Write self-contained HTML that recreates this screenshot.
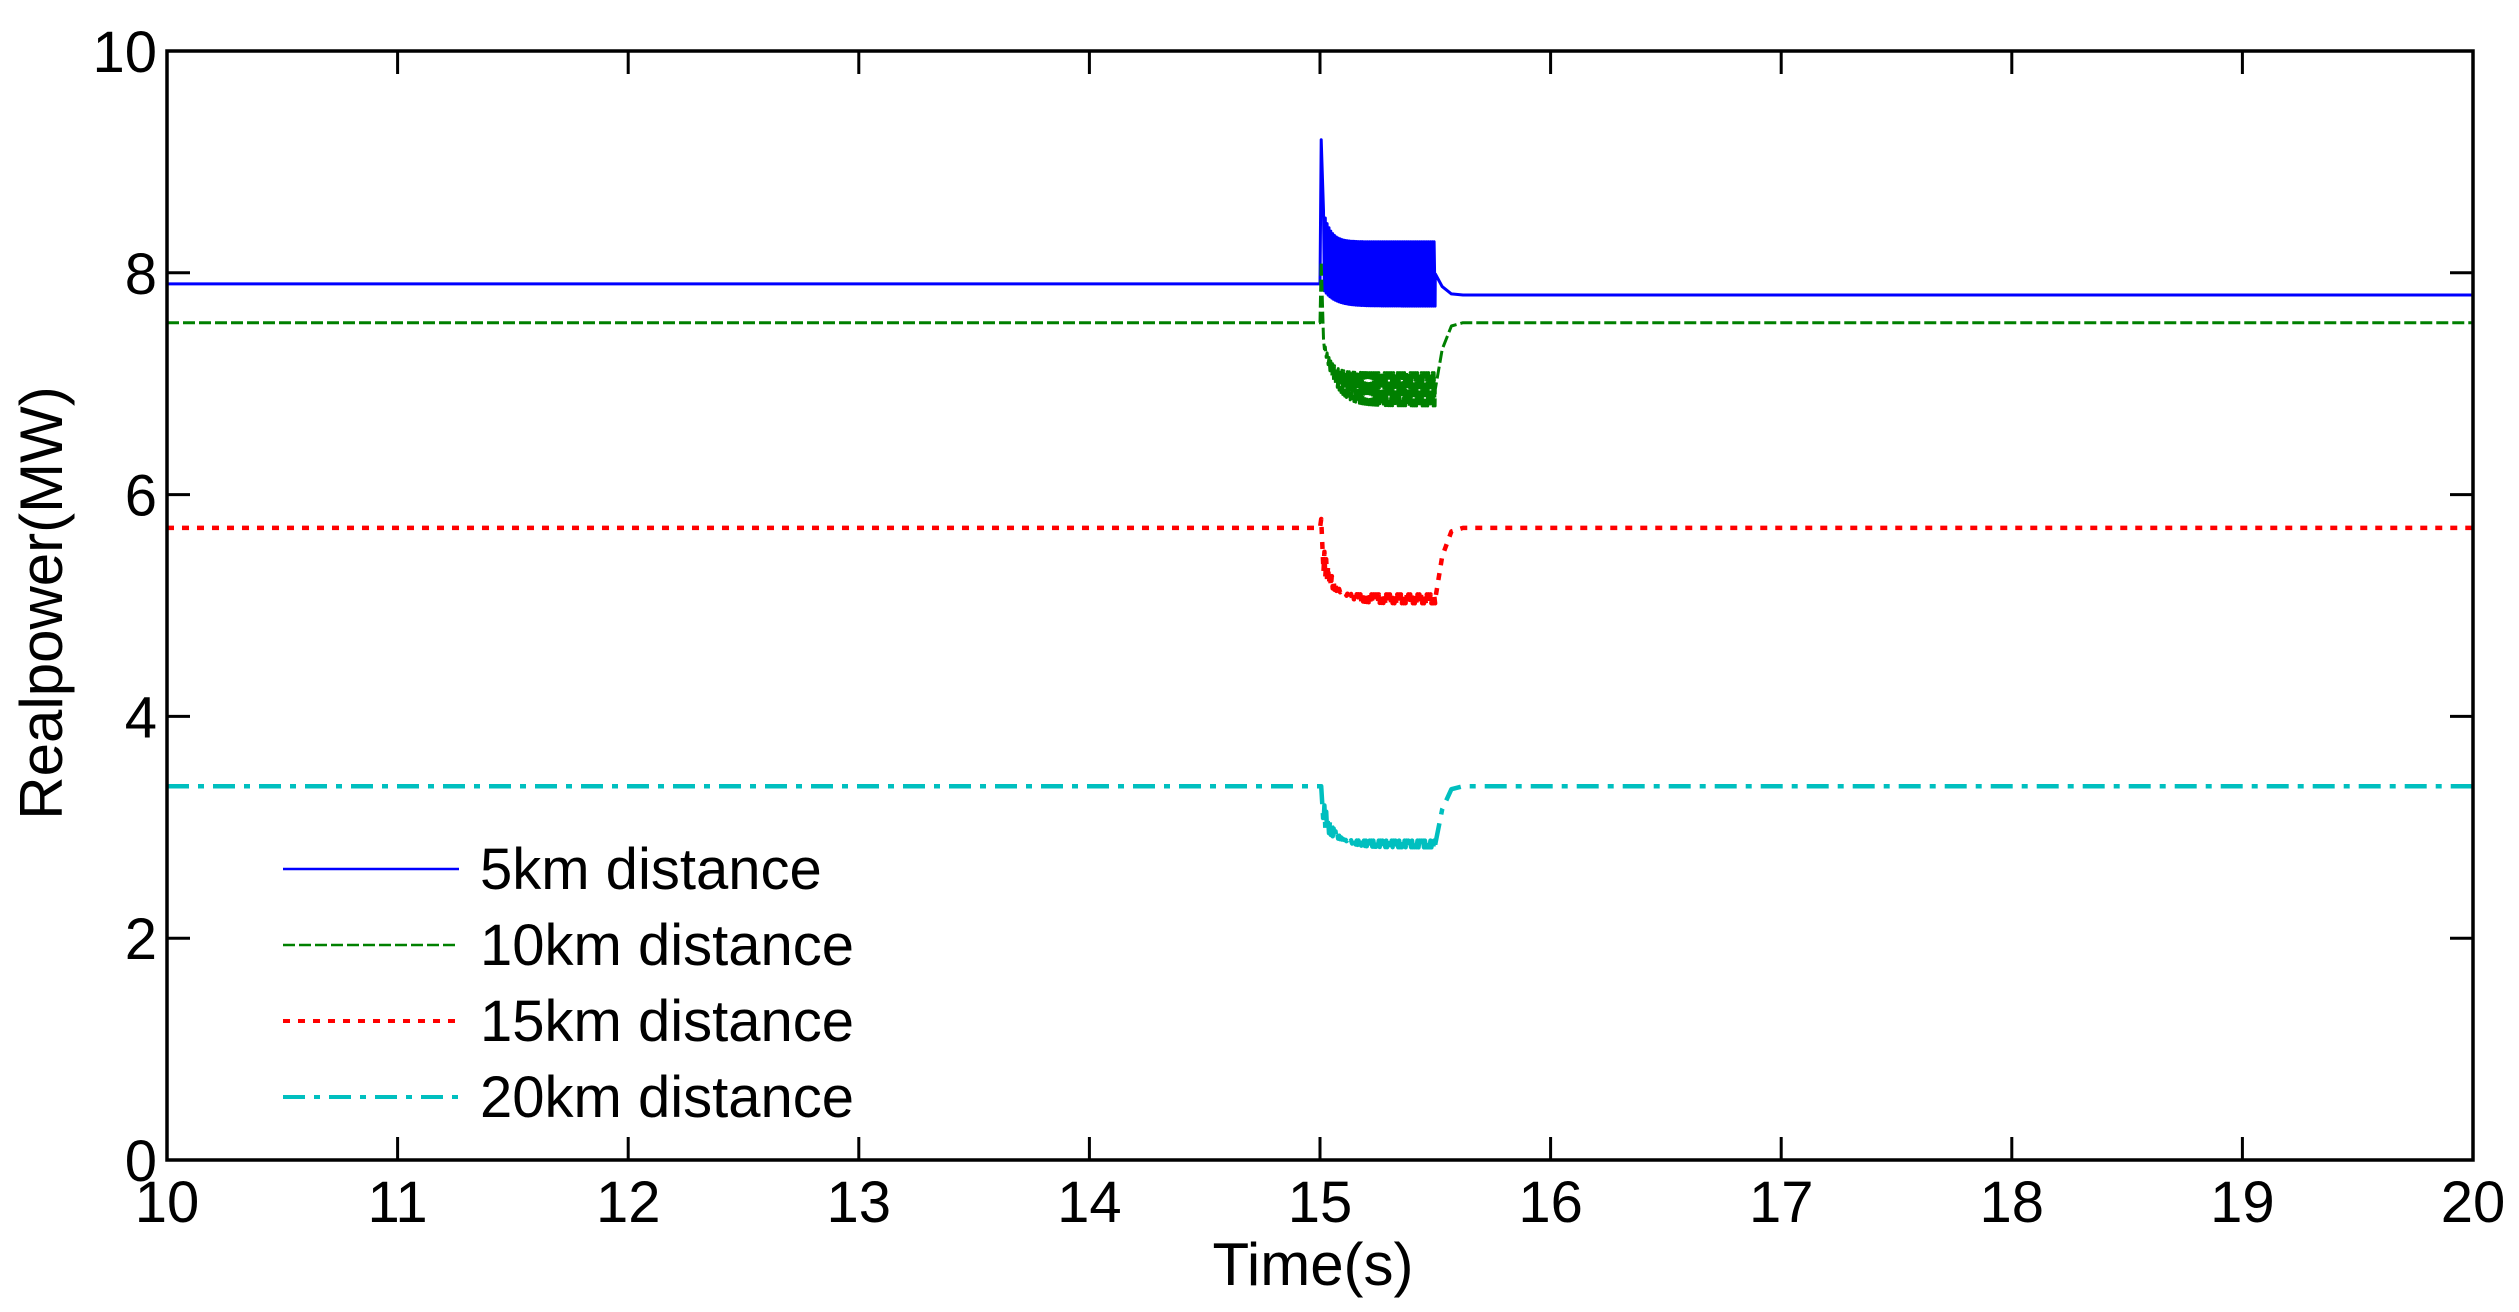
<!DOCTYPE html>
<html><head><meta charset="utf-8"><style>
html,body{margin:0;padding:0;background:#fff}
svg{display:block}
text{font-family:"Liberation Sans",Arial,sans-serif;fill:#000}
</style></head><body>
<svg id="chart" width="2519" height="1312" viewBox="0 0 2519 1312">
<g id="plot"></g>
<g id="axes"></g>
</svg>
<script>
// ---- data ----
const xTicks = [10,11,12,13,14,15,16,17,18,19,20];
const yTicks = [0,2,4,6,8,10];
const seriesNames = ["5km distance","10km distance","15km distance","20km distance"];
const steady = [7.9, 7.55, 5.7, 3.37];
const after = [7.8, 7.55, 5.7, 3.37];
const spike = [9.2, 8.1, 5.78, 3.37];
const oscHi = [8.28, 7.1, 5.1, 2.88];
const oscLo = [7.7, 6.8, 5.02, 2.82];
const faultStart = 15.0, faultEnd = 15.5, settleTime = 15.62;
const colors = ["#0000ff","#008000","#ff0000","#00bfbf"];
const dashes = ["", "12,4", "7,8", "22,9,6,9"];
const widths = [3, 3, 4.5, 4.5];

const L=167,R=2473,T=51,B=1160;
const xs = v => L + (v-10)/(20-10)*(R-L);
const ys = v => B - (v-0)/(10-0)*(B-T);
const NS="http://www.w3.org/2000/svg";
function mk(tag, attrs, parent){const e=document.createElementNS(NS,tag);for(const k in attrs)e.setAttribute(k,attrs[k]);parent.appendChild(e);return e;}
const plot=document.getElementById('plot'), axes=document.getElementById('axes');

seriesNames.forEach((name,i)=>{
  const pts=[[10,steady[i]],[faultStart,steady[i]],[faultStart+0.005,spike[i]]];
  let t=faultStart+0.015, k=0;
  while(t<faultEnd){
    const decay=Math.exp(-(t-faultStart)/0.03);
    const hi=oscHi[i]+(spike[i]-oscHi[i])*decay*0.5;
    const lo=oscLo[i]+(steady[i]-oscLo[i])*Math.exp(-(t-faultStart)/0.05);
    pts.push([t,(k%2===0)?hi:lo]);
    t+=0.004;k++;
  }
  const mid=(oscHi[i]+oscLo[i])/2;
  pts.push([faultEnd,mid]);
  pts.push([faultEnd+0.03,mid+(after[i]-mid)*0.6]);
  pts.push([faultEnd+0.07,mid+(after[i]-mid)*0.95]);
  pts.push([settleTime,after[i]]);
  pts.push([20,after[i]]);
  const d=pts.map((p,j)=>(j?'L':'M')+xs(p[0]).toFixed(1)+' '+ys(p[1]).toFixed(1)).join(' ');
  const p=mk('path',{d:d,fill:'none',stroke:colors[i],'stroke-width':widths[i],'stroke-dasharray':dashes[i]||'none','stroke-linejoin':'round'},plot);
  
  
  const ly=869+i*76;
  const ll=mk('line',{x1:283,x2:459,y1:ly,y2:ly,stroke:colors[i],'stroke-width':widths[i]-0.5,'stroke-dasharray':dashes[i]||'none'},plot);
  
  
  const lt=mk('text',{x:480,y:ly+20,'font-size':58},plot);
  lt.textContent=name;
  
  
});

const box=mk('rect',{x:L,y:T,width:R-L,height:B-T,fill:'none',stroke:'#000','stroke-width':3.5},axes);


xTicks.forEach(v=>{
  const x=xs(v);
  mk('line',{x1:x,x2:x,y1:B,y2:B-23,stroke:'#000','stroke-width':3},axes);
  mk('line',{x1:x,x2:x,y1:T,y2:T+23,stroke:'#000','stroke-width':3},axes);
  const t=mk('text',{x:x,y:B+62,'font-size':58,'text-anchor':'middle'},axes);
  t.textContent=v;
  
  
});
yTicks.forEach(v=>{
  const y=ys(v);
  mk('line',{x1:L,x2:L+23,y1:y,y2:y,stroke:'#000','stroke-width':3},axes);
  mk('line',{x1:R,x2:R-23,y1:y,y2:y,stroke:'#000','stroke-width':3},axes);
  const t=mk('text',{x:L-10,y:y+21,'font-size':58,'text-anchor':'end'},axes);
  t.textContent=v;
  
  
});
const xt=mk('text',{x:1313,y:1285,'font-size':60,'text-anchor':'middle'},axes);
xt.textContent='Time(s)';


const yt=mk('text',{x:0,y:0,'font-size':60,'text-anchor':'middle',transform:'translate(62,603) rotate(-90)'},axes);
yt.textContent='Realpower(MW)';


</script>
</body></html>
